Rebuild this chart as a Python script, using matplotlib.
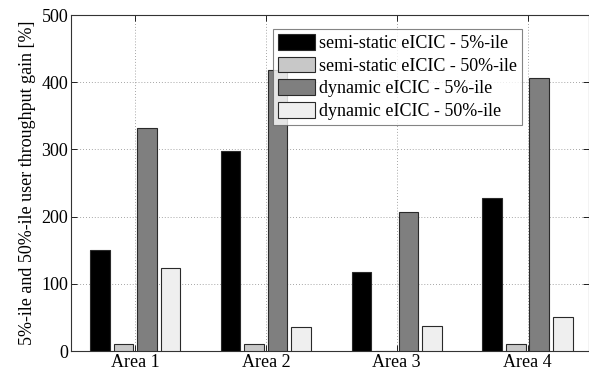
import matplotlib
matplotlib.use("Agg")
import matplotlib.pyplot as plt
import numpy as np

plt.rcParams['font.family'] = ['Liberation Serif', 'DejaVu Serif']

categories = ["Area 1", "Area 2", "Area 3", "Area 4"]
series_names = ["semi-static eICIC - 5%-ile", "semi-static eICIC - 50%-ile",
                "dynamic eICIC - 5%-ile", "dynamic eICIC - 50%-ile"]
semi_5 = [151, 298, 117, 228]
semi_50 = [11, 11, 0, 10]
dyn_5 = [332, 418, 207, 406]
dyn_50 = [123, 35, 37, 50]
yticks = [0, 100, 200, 300, 400, 500]

colors = ["#000000", "#c8c8c8", "#7f7f7f", "#efefef"]
series = [semi_5, semi_50, dyn_5, dyn_50]

fig = plt.figure(figsize=(5.89, 3.74), dpi=100)
ax = fig.add_axes([71/589, 1 - 351/374, (589 - 71)/589, (351 - 15)/374])

x = np.arange(1, len(categories) + 1)
offsets = [-0.27, -0.09, 0.09, 0.27]
width = 0.15
for s, name, c, off in zip(series, series_names, colors, offsets):
    ax.bar(x + off, s, width, color=c, edgecolor="#2a2a2a", linewidth=0.8,
           label=name, zorder=3)

ax.set_xlim(0.51, 4.47)
ax.set_ylim(0, 500)
ax.set_xticks(x)
ax.set_xticklabels(categories, fontsize=13)
ax.set_yticks(yticks)
ax.set_yticklabels([str(t) for t in yticks], fontsize=13)
ax.set_ylabel("5%-ile and 50%-ile user throughput gain [%]", fontsize=13)
ax.grid(True, linestyle=(0, (1, 2.5)), color="#888888", linewidth=0.6, zorder=0)
ax.tick_params(direction="in", length=4, width=0.6, pad=2, top=True, right=True)
for sp in ax.spines.values():
    sp.set_color("#333333")
    sp.set_linewidth(0.8)

leg = ax.legend(loc="upper left", bbox_to_anchor=((273 - 71)/518, (351 - 29)/336),
                fontsize=13, frameon=True, fancybox=False, handlelength=2.05,
                handleheight=0.95, handletextpad=0.2, labelspacing=0.25,
                borderpad=0.3, borderaxespad=0)
leg.get_frame().set_edgecolor("#666666")
leg.get_frame().set_linewidth(0.8)

fig.savefig("out.png", dpi=100)
